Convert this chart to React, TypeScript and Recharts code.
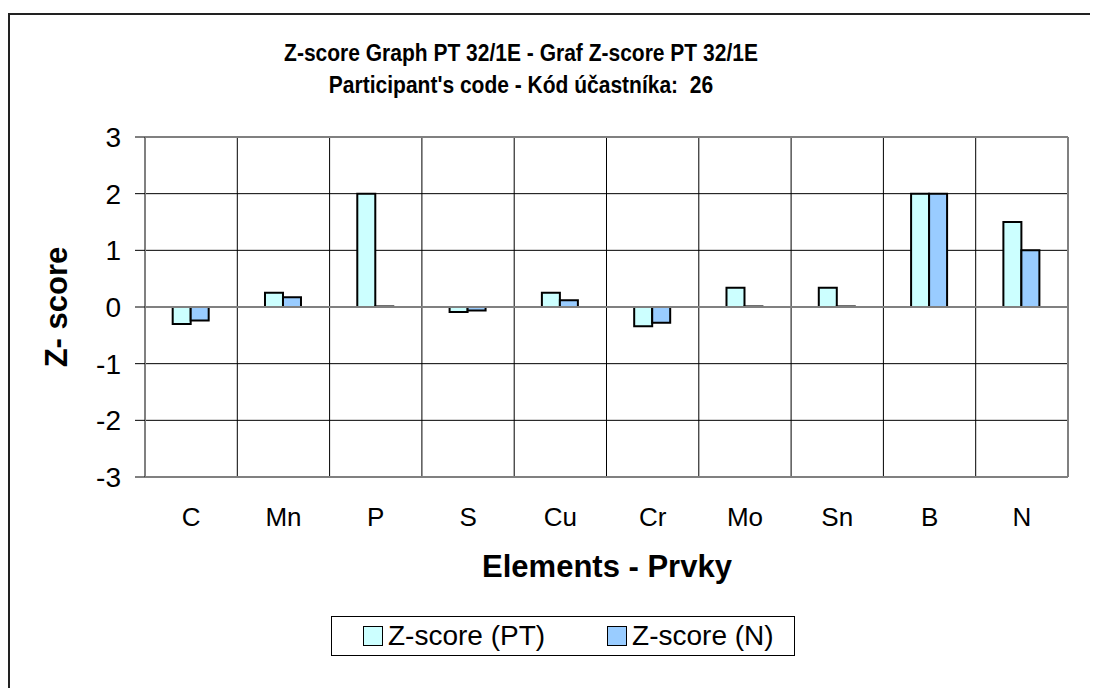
import {
  BarChart, Bar, XAxis, YAxis, CartesianGrid, ReferenceLine, Legend,
} from "recharts";

// Z-score per element, participant 26, PT 32/1E
const elements = ["C", "Mn", "P", "S", "Cu", "Cr", "Mo", "Sn", "B", "N"];
const zPT = [-0.3, 0.25, 2.0, -0.09, 0.25, -0.34, 0.34, 0.34, 2.0, 1.5];
const zN = [-0.24, 0.17, 0.01, -0.06, 0.12, -0.28, 0.01, 0.01, 2.0, 1.0];
const yTicks = [-3, -2, -1, 0, 1, 2, 3];

const seriesNames = ["Z-score (PT)", "Z-score (N)"];
const colorPT = "#ccffff";
const colorN = "#99ccff";

const data = elements.map((el, i) => ({ el, pt: zPT[i], n: zN[i] }));

const font = "Arial, 'Liberation Sans', Helvetica, sans-serif";

function LegendBox() {
  const item = (label: string, color: string, extra: React.CSSProperties) => (
    <div style={{ display: "flex", alignItems: "center", ...extra }}>
      <span
        style={{
          width: 20, height: 20, boxSizing: "border-box",
          border: "1px solid #000", background: color, marginRight: 5,
        }}
      />
      <span>{label}</span>
    </div>
  );
  return (
    <div
      style={{
        width: 464, height: 40, boxSizing: "border-box", border: "1px solid #000",
        background: "#fff", display: "flex", alignItems: "center", paddingLeft: 31,
        fontFamily: font, fontSize: 28, color: "#000", lineHeight: "40px",
      }}
    >
      {item(seriesNames[0], colorPT, {})}
      {item(seriesNames[1], colorN, { marginLeft: 62 })}
    </div>
  );
}

const titleStyle: React.CSSProperties = {
  position: "absolute", left: 213, width: 600, textAlign: "center",
  fontSize: 21, fontWeight: "bold", lineHeight: "21px", whiteSpace: "pre",
  transform: "scaleY(1.12)",
};

export default function App() {
  return (
    <div style={{ position: "relative", width: 1082, height: 680, overflow: "hidden", fontFamily: font }}>
      <div
        style={{
          position: "absolute", left: 0, top: 5, width: 1200, height: 800,
          borderLeft: "2px solid #222", borderTop: "2px solid #222",
        }}
      />
      <div style={{ ...titleStyle, top: 34 }}>Z-score Graph PT 32/1E - Graf Z-score PT 32/1E</div>
      <div style={{ ...titleStyle, top: 66 }}>{"Participant's code - Kód účastníka:  26"}</div>
      <div style={{ position: "absolute", left: 299, width: 600, top: 543, textAlign: "center", fontSize: 31, fontWeight: "bold", lineHeight: "31px" }}>
        Elements - Prvky
      </div>
      <div
        style={{
          position: "absolute", left: -51, top: 283, width: 200, height: 32, lineHeight: "32px",
          textAlign: "center", fontSize: 31, fontWeight: "bold", transform: "rotate(-90deg)",
        }}
      >
        Z- score
      </div>

      <div style={{ position: "absolute", left: 0, top: 0 }}>
        <BarChart
          width={1082}
          height={680}
          data={data}
          margin={{ top: 129, right: 0, bottom: 181, left: 0 }}
          barCategoryGap="30%"
          barGap={0}
        >
          <CartesianGrid
            stroke="#000"
            strokeWidth={1}
            verticalCoordinatesGenerator={({ offset }: any) =>
              elements.map((_, i) => offset.left + (i * offset.width) / elements.length)
            }
          />
          <XAxis
            dataKey="el"
            axisLine={false}
            tickLine={false}
            tickSize={0}
            tickMargin={31}
            interval={0}
            height={30}
            tick={{ fontSize: 26, fill: "#000", fontFamily: font }}
          />
          <YAxis
            domain={[-3, 3]}
            ticks={yTicks}
            width={137}
            axisLine={{ stroke: "#808080", strokeWidth: 2 }}
            tickLine={{ stroke: "#000" }}
            tickSize={10}
            tickMargin={14}
            interval={0}
            tick={{ fontSize: 28, fill: "#000", fontFamily: font }}
          />
          <YAxis
            yAxisId="right"
            orientation="right"
            domain={[-3, 3]}
            width={22}
            tick={false}
            tickLine={false}
            axisLine={{ stroke: "#808080", strokeWidth: 2 }}
          />
          <ReferenceLine y={3} stroke="#808080" strokeWidth={2} />
          <ReferenceLine y={-3} stroke="#808080" strokeWidth={2} />
          <ReferenceLine y={0} stroke="#808080" strokeWidth={2} />
          <Legend
            layout="horizontal"
            verticalAlign="middle"
            align="center"
            content={() => <LegendBox />}
            wrapperStyle={{ left: 323, top: 608, width: 464, height: 40 }}
          />
          <Bar dataKey="pt" name={seriesNames[0]} fill={colorPT} stroke="#000" strokeWidth={2} isAnimationActive={false} />
          <Bar dataKey="n" name={seriesNames[1]} fill={colorN} stroke="#000" strokeWidth={2} isAnimationActive={false} />
        </BarChart>
      </div>
    </div>
  );
}
